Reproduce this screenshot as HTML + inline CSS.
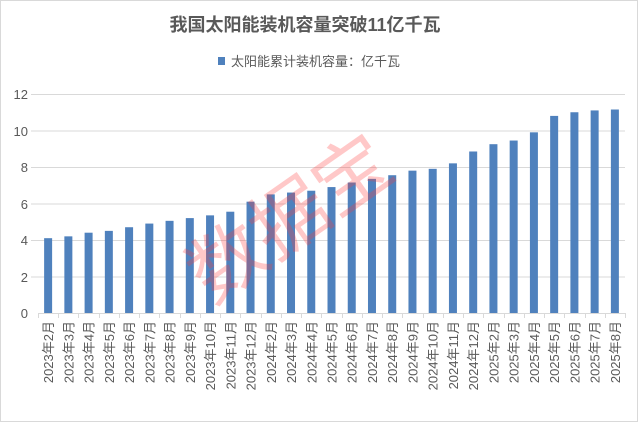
<!DOCTYPE html>
<html><head><meta charset="utf-8"><style>
body{margin:0;background:#fff;}
svg{display:block;font-family:"Liberation Sans","Noto Sans CJK SC",sans-serif;}
</style></head><body>
<svg width="638" height="422" xmlns="http://www.w3.org/2000/svg">
<rect x="0.5" y="0.5" width="637" height="421" fill="#fff" stroke="#d9d9d9"/>
<text x="305" y="31" text-anchor="middle" font-size="18" font-weight="bold" fill="#595959">我国太阳能装机容量突破11亿千瓦</text>
<rect x="218" y="57" width="7" height="8" fill="#4f81bd"/>
<text x="231" y="66" font-size="13" fill="#595959">太阳能累计装机容量：亿千瓦</text>
<g stroke="#d9d9d9" stroke-width="1">
<line x1="31" x2="625" y1="94.5" y2="94.5"/>
<line x1="31" x2="625" y1="131" y2="131"/>
<line x1="31" x2="625" y1="167.5" y2="167.5"/>
<line x1="31" x2="625" y1="204" y2="204"/>
<line x1="31" x2="625" y1="240.5" y2="240.5"/>
<line x1="31" x2="625" y1="277" y2="277"/>
</g>
<g font-size="13" fill="#595959" text-anchor="end">
<text x="28" y="99">12</text><text x="28" y="136">10</text><text x="28" y="172">8</text>
<text x="28" y="209">6</text><text x="28" y="245">4</text><text x="28" y="282">2</text><text x="28" y="318">0</text>
</g>
<g id="bars" fill="#4f81bd"></g>
<line x1="38" x2="625" y1="313.5" y2="313.5" stroke="#d9d9d9"/>
<g id="ticks" stroke="#d9d9d9"></g>
<g id="labels" font-size="13" fill="#595959"></g>
<text x="305" y="240" text-anchor="middle" font-size="76" fill="#ff3b3b" fill-opacity="0.28" transform="rotate(-35 305 240)" font-family="'Noto Sans CJK SC',sans-serif">数据宝</text>
<script>
var v=[4.1,4.2,4.4,4.5,4.7,4.9,5.05,5.2,5.35,5.55,6.1,6.5,6.6,6.7,6.9,7.15,7.35,7.55,7.8,7.9,8.2,8.85,9.25,9.45,9.9,10.8,11.0,11.1,11.15];
var L=[];for(var m=2;m<=12;m++)L.push("2023年"+m+"月");for(m=2;m<=12;m++)L.push("2024年"+m+"月");for(m=2;m<=8;m++)L.push("2025年"+m+"月");
var ns="http://www.w3.org/2000/svg",w=(625-38)/29,b=document.getElementById("bars"),t=document.getElementById("ticks"),lb=document.getElementById("labels");
for(var i=0;i<29;i++){var cx=38+w*(i+0.5),h=v[i]*18.25;
var r=document.createElementNS(ns,"rect");r.setAttribute("x",cx-4);r.setAttribute("width",8);r.setAttribute("y",313-h);r.setAttribute("height",h);b.appendChild(r);
var l=document.createElementNS(ns,"line");var x=Math.round(38+w*i)+0.5;l.setAttribute("x1",x);l.setAttribute("x2",x);l.setAttribute("y1",313);l.setAttribute("y2",318);t.appendChild(l);
var tx=document.createElementNS(ns,"text");tx.setAttribute("transform","translate("+(cx+5)+",321) rotate(-90)");tx.setAttribute("text-anchor","end");tx.textContent=L[i];lb.appendChild(tx);}
var l2=document.createElementNS(ns,"line");l2.setAttribute("x1",625.5);l2.setAttribute("x2",625.5);l2.setAttribute("y1",313);l2.setAttribute("y2",318);t.appendChild(l2);
</script>
</svg>
</body></html>
